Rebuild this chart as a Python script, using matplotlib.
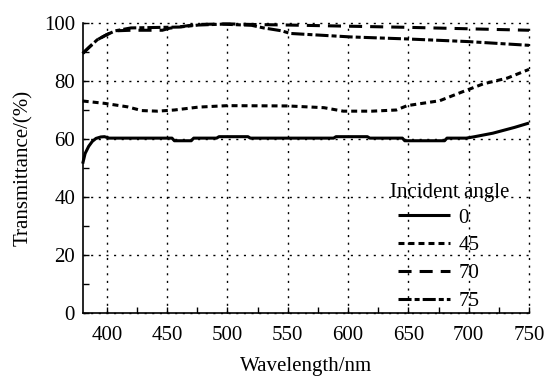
import matplotlib
matplotlib.use("Agg")
import matplotlib.pyplot as plt
from matplotlib.ticker import MultipleLocator

# incident angle 0 deg (solid)
wl_0 = [380, 382, 385, 388, 391, 395, 398, 402, 454, 456, 470, 472, 491, 493,
        517, 519, 588, 590, 616, 618, 645, 647, 680, 682, 698, 705, 720, 738, 750]
t_0 = [51.5, 55.0, 57.5, 59.2, 60.2, 60.7, 60.8, 60.3, 60.3, 59.4, 59.4, 60.3, 60.3, 60.8,
       60.8, 60.3, 60.3, 60.8, 60.8, 60.3, 60.3, 59.4, 59.4, 60.3, 60.3, 60.8, 62.0, 64.0, 65.5]

# 45 deg (dotted)
wl_45 = [380, 398, 417, 429, 442, 456, 476, 500, 550, 580, 596, 620, 640, 649,
         676, 695, 712, 732, 750]
t_45 = [73.1, 72.3, 71.1, 69.8, 69.6, 70.0, 71.0, 71.5, 71.4, 70.8, 69.6, 69.6, 70.0, 71.5,
        73.2, 76.3, 79.0, 81.0, 84.0]

# 70 deg (dashed)
wl_70 = [380, 385, 392, 400, 407, 420, 446, 452, 475, 500, 520, 550, 600, 650, 700, 750]
t_70 = [89.5, 91.5, 94.2, 96.0, 97.3, 97.5, 97.5, 98.2, 99.5, 99.7, 99.5, 99.3, 98.9, 98.5, 98.0, 97.5]

# 75 deg (dash-dot)
wl_75 = [380, 385, 392, 400, 407, 420, 446, 460, 476, 496, 520, 530, 545, 552,
         602, 649, 699, 750]
t_75 = [89.5, 91.5, 94.2, 96.0, 97.3, 98.3, 98.5, 98.6, 99.3, 99.6, 99.2, 98.3, 97.3, 96.4,
        95.2, 94.5, 93.6, 92.3]

labels = ["0", "45", "70", "75"]
styles = ["-", (0, (4.3, 2.9)), (0, (9.4, 5.8)), (0, (9.4, 2.2, 3.6, 2.2))]

plt.rcParams["font.family"] = ["Liberation Serif", "DejaVu Serif"]
plt.rcParams["font.size"] = 15
plt.rcParams["lines.scale_dashes"] = False

fig = plt.figure(figsize=(5.49, 3.76), dpi=100)
ax = fig.add_axes([82.7 / 549, 1 - 313 / 376, (529 - 82.7) / 549, (313 - 23) / 376])

series = [(wl_0, t_0), (wl_45, t_45), (wl_70, t_70), (wl_75, t_75)]
for (x, y), lab, ls in zip(series, labels, styles):
    ax.plot(x, y, color="black", lw=2.2, linestyle=ls, label=lab, clip_on=False,
            solid_capstyle="butt", dash_capstyle="butt")

ax.set_xlim(380, 750)
ax.set_ylim(0, 100)
ax.xaxis.set_major_locator(MultipleLocator(50))
ax.xaxis.set_minor_locator(MultipleLocator(25))
ax.yaxis.set_major_locator(MultipleLocator(20))
ax.yaxis.set_minor_locator(MultipleLocator(10))
ax.tick_params(which="both", direction="in", length=4, width=1, color="black")
ax.tick_params(axis="x", which="major", pad=9)
ax.tick_params(axis="y", which="major", pad=5.5)

ax.grid(True, which="major", color="black", lw=1, linestyle=(0, (1.5, 4)))
for gl in ax.get_xgridlines() + ax.get_ygridlines():
    gl.set_clip_on(False)

ax.spines["top"].set_visible(False)
ax.spines["right"].set_visible(False)
ax.spines["left"].set_linewidth(1.2)
ax.spines["bottom"].set_linewidth(1.2)

ax.set_xlabel("Wavelength/nm")
ax.set_ylabel("Transmittance/(%)")
ax.xaxis.set_label_coords(0.5, -0.152)
ax.yaxis.set_label_coords(-0.111, 0.5)

leg = ax.legend(loc="upper left", bbox_to_anchor=(398 / 549, 1 - 208 / 376),
                bbox_transform=fig.transFigure, frameon=False, borderpad=0,
                borderaxespad=0, handlelength=2.5, handletextpad=0.4, labelspacing=0.4)
fig.text(449.5 / 549, 1 - 193 / 376, "Incident angle", ha="center", va="center")

fig.savefig("out.png", dpi=100)
